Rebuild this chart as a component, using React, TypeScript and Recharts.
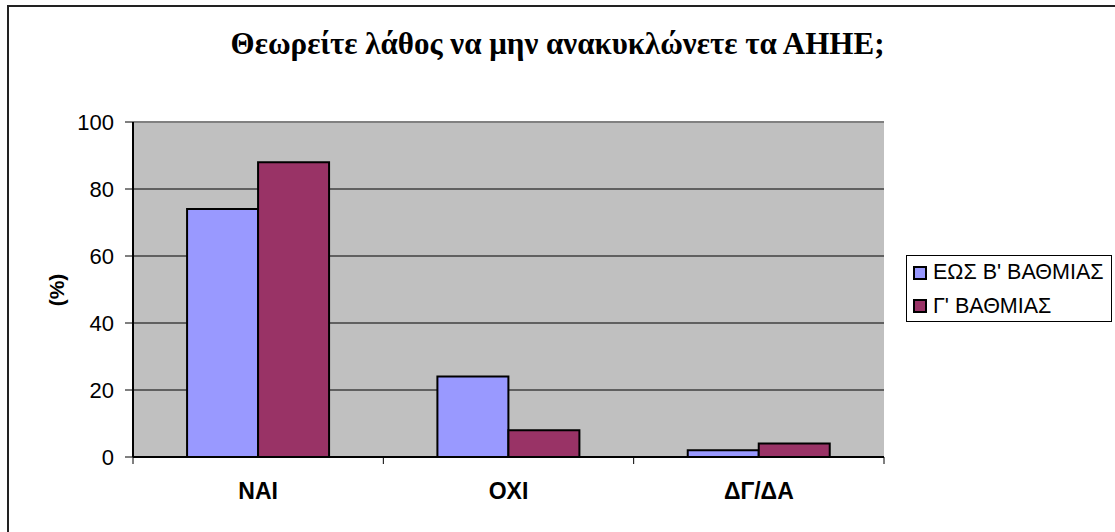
import React from 'react';
import {
    BarChart,
    Bar,
    XAxis,
    YAxis,
    CartesianGrid,
    ReferenceLine
} from 'recharts';

const categories = ['NAI', 'OXI', 'ΔΓ/ΔΑ'];
const upToSecondary = [74, 24, 2];
const tertiary = [88, 8, 4];
const yTicks = [0, 20, 40, 60, 80, 100];

const seriesNames = ["ΕΩΣ Β' ΒΑΘΜΙΑΣ", "Γ' ΒΑΘΜΙΑΣ"];
const seriesColors = ['#9999FF', '#993366'];

const data = categories.map((name, i) => ({
    name,
    low: upToSecondary[i],
    high: tertiary[i],
}));

const sans = 'Arial, "Liberation Sans", sans-serif';

// category label plus the small tick marks at the category boundaries
const CategoryTick = (props: any) => {
    const { x, y, payload, index } = props;
    const axisY = y - 8; // tickSize 6 + tickMargin 2
    const half = payload?.offset ?? 0;
    return (
        <g>
            <line x1={x - half} y1={axisY} x2={x - half} y2={axisY + 7} stroke="#000" strokeWidth={1} />
            {index === categories.length - 1 && (
                <line x1={x + half} y1={axisY} x2={x + half} y2={axisY + 7} stroke="#000" strokeWidth={1} />
            )}
            <text
                x={x}
                y={axisY + 34}
                textAnchor="middle"
                dominantBaseline="central"
                fill="#000"
                fontSize={23}
                fontWeight="bold"
                fontFamily={sans}
            >
                {payload.value}
            </text>
        </g>
    );
};

export default function App() {
    return (
        <div
            style={{
                position: 'absolute',
                left: 0,
                top: 0,
                width: 1115,
                height: 532,
                overflow: 'hidden',
                background: '#fff',
            }}
        >
            <div
                style={{
                    position: 'absolute',
                    left: 7,
                    top: 5,
                    width: 1200,
                    height: 600,
                    border: '2px solid #222',
                }}
            />
            <div
                style={{
                    position: 'absolute',
                    left: 0,
                    top: 26,
                    width: 1115,
                    textAlign: 'center',
                    fontFamily: '"Times New Roman", "Liberation Serif", serif',
                    fontWeight: 'bold',
                    fontSize: 31,
                    color: '#000',
                }}
            >
                Θεωρείτε λάθος να μην ανακυκλώνετε τα ΑΗΗΕ;
            </div>
            <div
                style={{
                    position: 'absolute',
                    left: 57,
                    top: 290,
                    transform: 'translate(-50%, -50%) rotate(-90deg)',
                    fontFamily: sans,
                    fontWeight: 'bold',
                    fontSize: 21,
                    color: '#000',
                    whiteSpace: 'nowrap',
                }}
            >
                (%)
            </div>
            <div style={{ position: 'absolute', left: 0, top: 0 }}>
                <BarChart
                    width={1115}
                    height={532}
                    data={data}
                    margin={{ top: 122, right: 231, left: 73, bottom: 45 }}
                    barGap={0}
                    barCategoryGap="21.6%"
                >
                    <CartesianGrid vertical={false} fill="#C0C0C0" stroke="#000" strokeOpacity={1} fillOpacity={1} />
                    <XAxis
                        dataKey="name"
                        axisLine={{ stroke: '#000', strokeWidth: 2 }}
                        tickLine={false}
                        tickSize={6}
                        tickMargin={2}
                        tick={<CategoryTick />}
                        height={30}
                    />
                    <YAxis
                        domain={[0, 100]}
                        ticks={yTicks}
                        axisLine={{ stroke: '#000', strokeWidth: 2 }}
                        tickLine={{ stroke: '#000' }}
                        tickSize={8}
                        tickMargin={11}
                        tick={{ fill: '#000', fontSize: 22, fontFamily: sans }}
                        width={60}
                    />
                    <YAxis
                        yAxisId="right"
                        orientation="right"
                        domain={[0, 100]}
                        axisLine={{ stroke: '#808080', strokeWidth: 2 }}
                        tick={false}
                        tickLine={false}
                        width={0}
                    />
                    <ReferenceLine y={100} stroke="#808080" strokeWidth={2} />
                    <Bar
                        dataKey="low"
                        name={seriesNames[0]}
                        fill={seriesColors[0]}
                        stroke="#000"
                        strokeWidth={2}
                        isAnimationActive={false}
                    />
                    <Bar
                        dataKey="high"
                        name={seriesNames[1]}
                        fill={seriesColors[1]}
                        stroke="#000"
                        strokeWidth={2}
                        isAnimationActive={false}
                    />
                </BarChart>
            </div>
            <div
                style={{
                    position: 'absolute',
                    left: 906,
                    top: 255,
                    width: 206,
                    height: 67,
                    border: '1px solid #000',
                    background: '#fff',
                    padding: '0 0 0 6px',
                    boxSizing: 'border-box',
                }}
            >
                {seriesNames.map((name, i) => (
                    <div key={name} style={{ display: 'flex', alignItems: 'center', height: i === 0 ? 33 : 34 }}>
                        <span
                            style={{
                                display: 'inline-block',
                                width: 10,
                                height: 10,
                                background: seriesColors[i],
                                border: '2px solid #000',
                                marginRight: 6,
                            }}
                        />
                        <span style={{ fontFamily: sans, fontSize: 21.5, color: '#000' }}>{name}</span>
                    </div>
                ))}
            </div>
        </div>
    );
}
